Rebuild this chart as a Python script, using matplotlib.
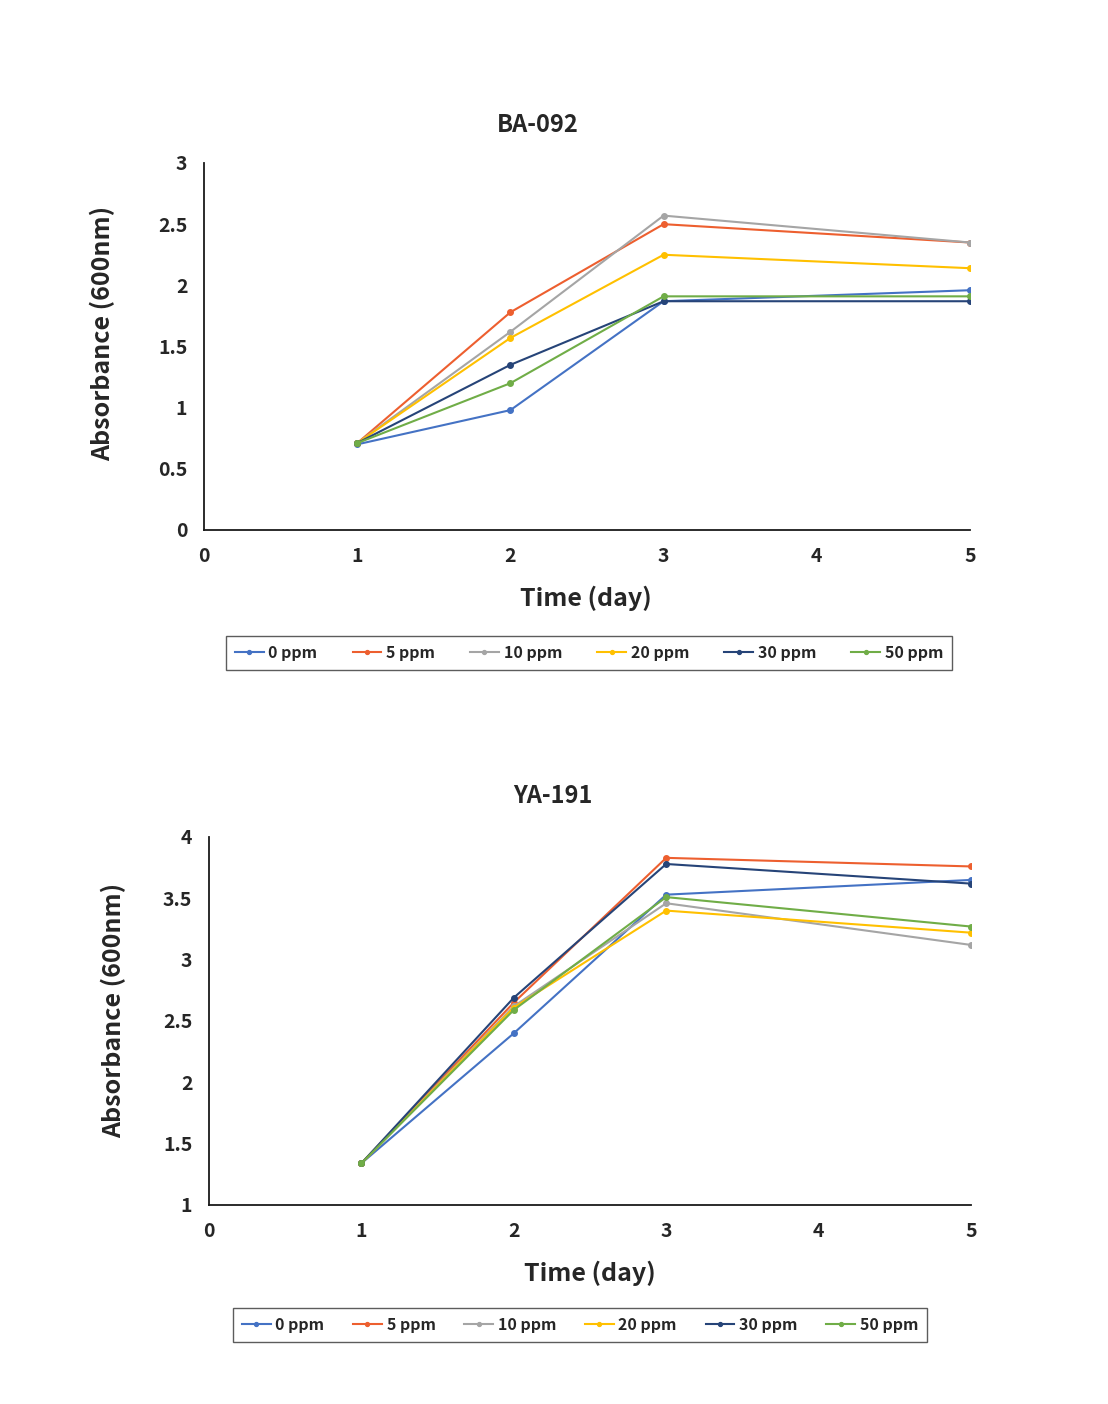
import matplotlib
matplotlib.use("Agg")
import matplotlib.pyplot as plt

plt.rcParams['font.family'] = ['Noto Sans CJK KR', 'DejaVu Sans']

days = [1, 2, 3, 5]
labels = ["0 ppm", "5 ppm", "10 ppm", "20 ppm", "30 ppm", "50 ppm"]
colors = ["#4472C4", "#ED5F2F", "#A5A5A5", "#FFC000", "#264478", "#70AD47"]

# BA-092
ba_0 = [0.70, 0.98, 1.87, 1.96]
ba_5 = [0.71, 1.78, 2.50, 2.35]
ba_10 = [0.71, 1.62, 2.57, 2.35]
ba_20 = [0.71, 1.57, 2.25, 2.14]
ba_30 = [0.71, 1.35, 1.87, 1.87]
ba_50 = [0.71, 1.20, 1.91, 1.91]

# YA-191
ya_0 = [1.34, 2.40, 3.53, 3.65]
ya_5 = [1.34, 2.65, 3.83, 3.76]
ya_10 = [1.34, 2.62, 3.46, 3.12]
ya_20 = [1.34, 2.61, 3.40, 3.22]
ya_30 = [1.34, 2.69, 3.78, 3.62]
ya_50 = [1.34, 2.59, 3.51, 3.27]

W, H = 1108, 1404
fig = plt.figure(figsize=(W / 100, H / 100), dpi=100)
TXT = '#262626'


def px_axes(l, t, r, b):
    return fig.add_axes([l / W, 1 - b / H, (r - l) / W, (b - t) / H])


def draw(ax, series, ylim, yticks, ytl):
    for s, c, lab in zip(series, colors, labels):
        ax.plot(days, s, color=c, lw=1.5, marker='o', ms=4, label=lab)
    ax.set_xlim(0, 5)
    ax.set_ylim(*ylim)
    ax.set_xticks([0, 1, 2, 3, 4, 5])
    ax.set_yticks(yticks)
    ax.set_yticklabels(ytl)
    for sp in ['top', 'right']:
        ax.spines[sp].set_visible(False)
    for sp in ['left', 'bottom']:
        ax.spines[sp].set_color('#1a1a1a')
        ax.spines[sp].set_linewidth(1.3)
    ax.tick_params(length=0, labelsize=14, pad=12)
    for t in ax.get_xticklabels() + ax.get_yticklabels():
        t.set_fontweight('bold')
        t.set_color(TXT)


def legend(ax, x, y, cs):
    leg = ax.legend(loc='center', bbox_to_anchor=(x / W, 1 - y / H),
                    bbox_transform=fig.transFigure, ncol=6, fontsize=11.5,
                    frameon=True, fancybox=False, edgecolor='#333333',
                    handlelength=1.8, handletextpad=0.3, columnspacing=cs,
                    markerscale=0.7, borderpad=0.55)
    leg.get_frame().set_linewidth(1.0)
    for t in leg.get_texts():
        t.set_fontweight('bold')
        t.set_color(TXT)


# Top chart
ax1 = px_axes(204, 163, 970, 530)
draw(ax1, [ba_0, ba_5, ba_10, ba_20, ba_30, ba_50], (0, 3),
     [0, 0.5, 1, 1.5, 2, 2.5, 3], ["0", "0.5", "1", "1.5", "2", "2.5", "3"])
fig.text(538 / W, 1 - 125 / H, "BA-092", ha='center', va='center',
         fontsize=17, fontweight='bold', color=TXT)
fig.text(103 / W, 1 - 333 / H, "Absorbance (600nm)", ha='center', va='center',
         rotation=90, fontsize=18, fontweight='bold', color=TXT)
fig.text(586 / W, 1 - 598 / H, "Time (day)", ha='center', va='center',
         fontsize=18, fontweight='bold', color=TXT)
legend(ax1, 589, 653, 2.2)

# Bottom chart
ax2 = px_axes(209, 837, 971, 1205)
draw(ax2, [ya_0, ya_5, ya_10, ya_20, ya_30, ya_50], (1, 4),
     [1, 1.5, 2, 2.5, 3, 3.5, 4], ["1", "1.5", "2", "2.5", "3", "3.5", "4"])
fig.text(553 / W, 1 - 796 / H, "YA-191", ha='center', va='center',
         fontsize=17, fontweight='bold', color=TXT)
fig.text(114 / W, 1 - 1010 / H, "Absorbance (600nm)", ha='center', va='center',
         rotation=90, fontsize=18, fontweight='bold', color=TXT)
fig.text(590 / W, 1 - 1273 / H, "Time (day)", ha='center', va='center',
         fontsize=18, fontweight='bold', color=TXT)
legend(ax2, 580, 1325, 1.8)

fig.savefig("out.png", dpi=100, facecolor='white')
